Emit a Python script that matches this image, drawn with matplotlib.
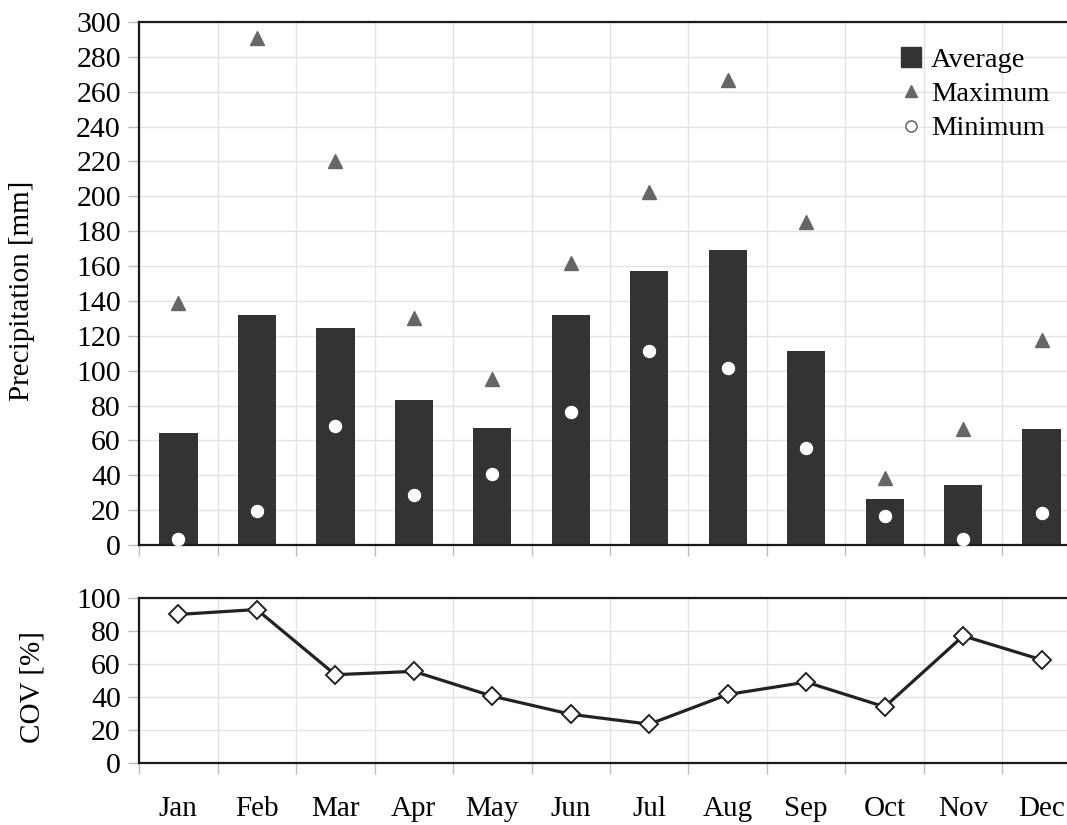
import numpy as np
import matplotlib.pyplot as plt
from matplotlib.lines import Line2D

plt.rcParams['font.family'] = ['Liberation Serif', 'DejaVu Serif']

# Data
months = ['Jan', 'Feb', 'Mar', 'Apr', 'May', 'Jun', 'Jul', 'Aug', 'Sep', 'Oct', 'Nov', 'Dec']
average = [64, 132, 124.5, 83, 67, 132, 157, 169.5, 111.5, 26.5, 34.5, 66.5]
maximum = [139, 291, 220, 130, 95, 162, 202.5, 267, 185, 38.5, 66.5, 117.5]
minimum = [3.5, 19.5, 68, 28.5, 40.5, 76.5, 111, 101.5, 55.5, 16.5, 3.5, 18.5]
cov = [90, 93, 53.5, 55.5, 40.5, 29.5, 23.5, 41.5, 49, 34, 77, 62.5]

x = np.arange(len(months))
grid_c = '#e3e3e3'
tick_c = '#bdbdbd'
spine_c = '#1a1a1a'

fig = plt.figure(figsize=(10.67, 8.25), dpi=100)
ax1 = fig.add_axes([0.1303, 0.3394, 0.8828, 0.6339])
ax2 = fig.add_axes([0.1303, 0.0752, 0.8828, 0.2000])

# Top: precipitation
ax1.bar(x, average, width=0.49, color='#333333', zorder=2)
ax1.plot(x, maximum, linestyle='none', marker='^', ms=10.5, color='#666666', zorder=3)
ax1.plot(x, minimum, linestyle='none', marker='o', ms=10.5, mfc='white', mec='#333333', mew=0.8, zorder=4)
ax1.set_ylim(0, 300)
ax1.set_yticks(np.arange(0, 301, 20))
ax1.set_ylabel('Precipitation [mm]', fontsize=21)
ax1.yaxis.set_label_coords(-0.110, 0.485)

# Bottom: coefficient of variation
ax2.plot(x, cov, color='#222222', lw=2.3, marker='D', ms=9, mfc='white', mec='#222222', mew=1.4, zorder=3)
ax2.set_ylim(0, 100)
ax2.set_yticks(np.arange(0, 101, 20))
ax2.set_ylabel('COV [%]', fontsize=21)
ax2.yaxis.set_label_coords(-0.0998, 0.46)

for ax in (ax1, ax2):
    ax.set_xlim(-0.5, 11.5)
    ax.set_xticks(np.arange(-0.5, 12, 1))
    ax.set_xticklabels([])
    ax.set_xticks(x, minor=True)
    ax.grid(True, which='major', color=grid_c, lw=1.0, zorder=0)
    ax.set_axisbelow(True)
    ax.tick_params(axis='both', which='major', color=tick_c, length=8, width=1.0, labelsize=21.5, pad=5)
    ax.tick_params(axis='x', which='minor', length=0)
    for s in ('top', 'left', 'bottom'):
        ax.spines[s].set_color(spine_c)
        ax.spines[s].set_linewidth(1.6)
    ax.spines['right'].set_visible(False)

ax2.set_xticklabels(months, minor=True, fontsize=21)
ax2.tick_params(axis='x', which='minor', pad=24)

handles = [
    Line2D([], [], linestyle='none', marker='s', ms=14, color='#333333'),
    Line2D([], [], linestyle='none', marker='^', ms=9, color='#666666'),
    Line2D([], [], linestyle='none', marker='o', ms=8, mfc='white', mec='#555555', mew=1.0),
]
ax1.legend(handles, ['Average', 'Maximum', 'Minimum'], loc='upper right',
           bbox_to_anchor=(0.994, 1.002), frameon=False, fontsize=20.5,
           handletextpad=0.1, labelspacing=0.3, handlelength=1.2)

fig.savefig('out.png', dpi=100)
